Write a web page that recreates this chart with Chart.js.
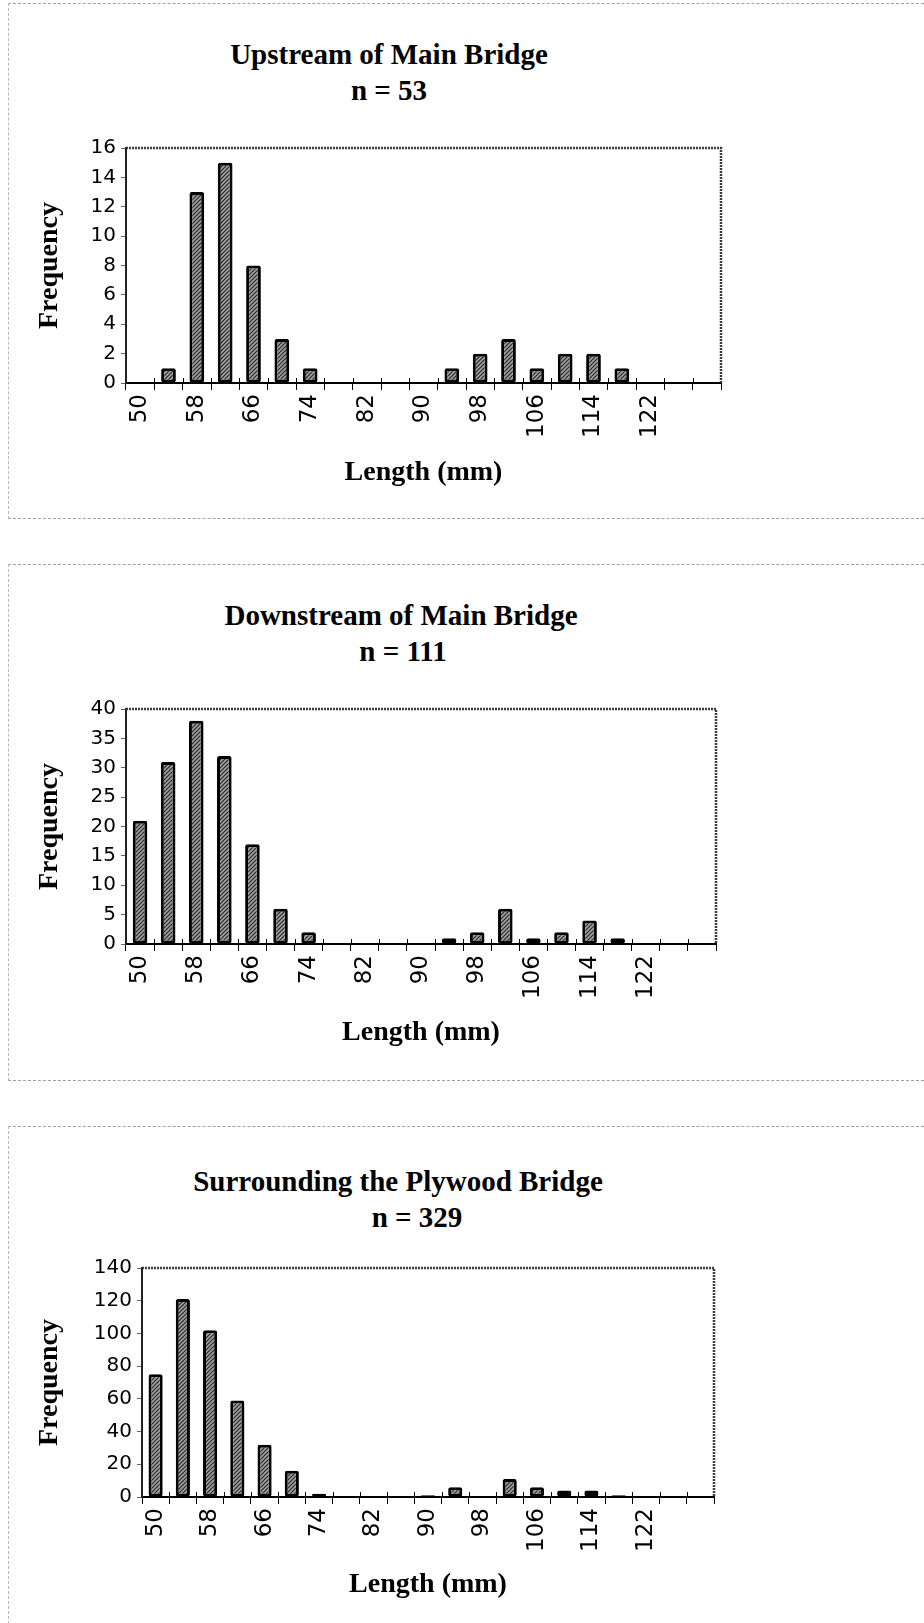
<!DOCTYPE html>
<html>
<head>
<meta charset="utf-8">
<script src="https://cdn.jsdelivr.net/npm/chart.js@4.4.0/dist/chart.umd.min.js"></script>
<style>
  body { margin: 0; background: #fff; width: 924px; height: 1623px; position: relative; overflow: hidden; }
  .marco { position: absolute; left: 8px; right: 0; border-top: 1px dashed #a0a0a0; border-left: 1px dashed #b8b8b8; }
  .titulo { position: absolute; font: bold 29px 'Liberation Serif', 'Times New Roman', serif; color: #000;
            white-space: nowrap; transform: translateX(-50%); line-height: 29px; }
  canvas { position: absolute; left: 0; }
</style>
</head>
<body>

<div class="marco" style="top:3px; height:514px; border-bottom:1px dashed #a0a0a0;"></div>
<div class="marco" style="top:564px; height:515px; border-bottom:1px dashed #a0a0a0;"></div>
<div class="marco" style="top:1126px; height:497px;"></div>

<div class="titulo" style="left:389px; top:40px;">Upstream of Main Bridge</div>
<div class="titulo" style="left:389px; top:76px;">n = 53</div>
<div class="titulo" style="left:401px; top:601px;">Downstream of Main Bridge</div>
<div class="titulo" style="left:403px; top:637px;">n = 111</div>
<div class="titulo" style="left:398px; top:1167px;">Surrounding the Plywood Bridge</div>
<div class="titulo" style="left:417px; top:1203px;">n = 329</div>

<canvas id="grafico1" width="924" height="520" style="top:0px;"></canvas>
<canvas id="grafico2" width="924" height="520" style="top:560px;"></canvas>
<canvas id="grafico3" width="924" height="503" style="top:1120px;"></canvas>

<script>
// clases de longitud (mm), una barra por clase
var clases = [50, 54, 58, 62, 66, 70, 74, 78, 82, 86, 90, 94, 98, 102, 106, 110, 114, 118, 122, 126, 130];
// solo se rotulan cada 8 mm hasta 122
var etiquetasX = [50, 58, 66, 74, 82, 90, 98, 106, 114, 122];

var frec_aguas_arriba = [0, 1, 13, 15, 8, 3, 1, 0, 0, 0, 0, 1, 2, 3, 1, 2, 2, 1, 0, 0, 0];
var frec_aguas_abajo = [21, 31, 38, 32, 17, 6, 2, 0, 0, 0, 0, 1, 2, 6, 1, 2, 4, 1, 0, 0, 0];
var frec_puente_madera = [75, 121, 102, 59, 32, 16, 2, 0, 0, 0, 1, 6, 0, 11, 6, 4, 4, 1, 0, 0, 0];

var ejeY1 = { max: 16, paso: 2 };
var ejeY2 = { max: 40, paso: 5 };
var ejeY3 = { max: 140, paso: 20 };

Chart.defaults.animation = false;

function patronRayado(ctx) {
    var c = document.createElement('canvas');
    c.width = 4;
    c.height = 4;
    var p = c.getContext('2d');
    p.fillStyle = '#a2a2a2';
    p.fillRect(0, 0, 4, 4);
    p.strokeStyle = '#262626';
    p.lineWidth = 1.2;
    p.beginPath();
    p.moveTo(0, 4); p.lineTo(4, 0);
    p.moveTo(-1, 1); p.lineTo(1, -1);
    p.moveTo(3, 5); p.lineTo(5, 3);
    p.stroke();
    return ctx.createPattern(c, 'repeat');
}

// borde superior y derecho del area de trazado, y marcas del eje x hacia arriba
var bordeArea = {
    id: 'bordeArea',
    beforeDatasetsDraw: function (chart) {
        var a = chart.chartArea;
        var ctx = chart.ctx;
        ctx.save();
        ctx.strokeStyle = '#3c3c3c';
        ctx.lineWidth = 2.5;
        ctx.setLineDash([2, 1]);
        ctx.beginPath();
        ctx.moveTo(a.left, a.top);
        ctx.lineTo(a.right, a.top);
        ctx.lineTo(a.right, a.bottom);
        ctx.stroke();
        ctx.setLineDash([]);
        ctx.lineWidth = 1;
        ctx.strokeStyle = '#000';
        var n = chart.data.labels.length;
        var ancho = (a.right - a.left) / n;
        ctx.beginPath();
        for (var i = 1; i < n; i++) {
            var x = Math.round(a.left + i * ancho) + 0.5;
            ctx.moveTo(x, a.bottom);
            ctx.lineTo(x, a.bottom - 5);
        }
        ctx.stroke();
        ctx.restore();
    }
};

// p: posiciones en la pagina (px)
function crearHistograma(id, datos, eje, p) {
    var canvas = document.getElementById(id);
    var ctx = canvas.getContext('2d');
    var alto = canvas.height;
    return new Chart(ctx, {
        type: 'bar',
        data: {
            labels: clases,
            datasets: [{
                data: datos,
                backgroundColor: patronRayado(ctx),
                borderColor: '#000',
                borderWidth: 3,
                borderRadius: 2,
                borderSkipped: false,
                barPercentage: 0.52,
                categoryPercentage: 1
            }]
        },
        options: {
            responsive: false,
            layout: {
                padding: { left: 0, right: 924 - p.der, top: p.arriba - p.canvasTop, bottom: 0 }
            },
            plugins: {
                legend: { display: false },
                tooltip: { enabled: false }
            },
            scales: {
                x: {
                    grid: { offset: true, drawOnChartArea: false, tickLength: 7, color: '#000', lineWidth: 1 },
                    border: { display: true, color: '#000', width: 2 },
                    ticks: {
                        autoSkip: false,
                        minRotation: 90,
                        maxRotation: 90,
                        padding: 4,
                        color: '#000',
                        font: { family: "'DejaVu Sans', sans-serif", size: 23 },
                        callback: function (v, i) {
                            return etiquetasX.indexOf(clases[i]) >= 0 ? String(clases[i]) : '';
                        }
                    },
                    title: {
                        display: true,
                        text: 'Length (mm)',
                        color: '#000',
                        font: { family: "'Liberation Serif', serif", size: 28, weight: 'bold', lineHeight: 1.2 },
                        padding: { top: 0, bottom: p.canvasTop + alto - p.tituloX - 16.8 }
                    },
                    afterFit: function (s) { s.height = p.canvasTop + alto - p.abajo; }
                },
                y: {
                    min: 0,
                    max: eje.max,
                    grid: { drawOnChartArea: false, tickLength: 5, color: '#666', lineWidth: 1 },
                    border: { display: true, color: '#222', width: 2 },
                    ticks: {
                        stepSize: eje.paso,
                        padding: 5,
                        color: '#000',
                        font: { family: "'DejaVu Sans', sans-serif", size: 20 }
                    },
                    title: {
                        display: true,
                        text: 'Frequency',
                        color: '#000',
                        font: { family: "'Liberation Serif', serif", size: 28, weight: 'bold', lineHeight: 1.2 },
                        padding: { top: p.tituloY - 16.8, bottom: 0 }
                    },
                    afterFit: function (s) { s.width = p.izq; }
                }
            }
        },
        plugins: [bordeArea]
    });
}

crearHistograma('grafico1', frec_aguas_arriba, ejeY1,
    { canvasTop: 0, izq: 126, der: 721, arriba: 148, abajo: 383, tituloY: 50, tituloX: 473 });
crearHistograma('grafico2', frec_aguas_abajo, ejeY2,
    { canvasTop: 560, izq: 126, der: 716, arriba: 709, abajo: 944, tituloY: 50, tituloX: 1033 });
crearHistograma('grafico3', frec_puente_madera, ejeY3,
    { canvasTop: 1120, izq: 142, der: 714, arriba: 1268, abajo: 1497, tituloY: 50, tituloX: 1585 });
</script>
</body>
</html>
